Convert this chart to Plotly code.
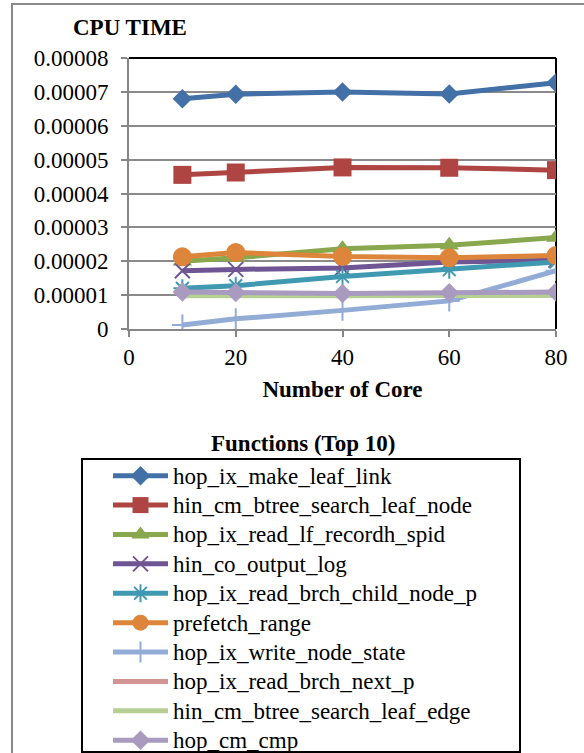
import plotly.graph_objects as go

# Number of cores on the x axis
cores = [10, 20, 40, 60, 80]

# CPU time per function (seconds)
hop_ix_make_leaf_link = [0.0000680, 0.0000693, 0.0000700, 0.0000694, 0.0000727]
hin_cm_btree_search_leaf_node = [0.0000455, 0.0000462, 0.0000477, 0.0000476, 0.0000469]
hop_ix_read_lf_recordh_spid = [0.0000200, 0.0000210, 0.0000237, 0.0000247, 0.0000270]
hin_co_output_log = [0.0000172, 0.0000176, 0.0000180, 0.0000198, 0.0000203]
hop_ix_read_brch_child_node_p = [0.0000120, 0.0000128, 0.0000155, 0.0000175, 0.0000198]
prefetch_range = [0.0000213, 0.0000226, 0.0000214, 0.0000210, 0.0000217]
hop_ix_write_node_state = [0.0000012, 0.0000030, 0.0000055, 0.0000083, 0.0000172]
hop_ix_read_brch_next_p = [0.0000100, 0.0000101, 0.0000100, 0.0000101, 0.0000101]
hin_cm_btree_search_leaf_edge = [0.0000098, 0.0000099, 0.0000098, 0.0000099, 0.0000099]
hop_cm_cmp = [0.0000109, 0.0000108, 0.0000105, 0.0000107, 0.0000109]

y_tickvals = [0, 0.00001, 0.00002, 0.00003, 0.00004, 0.00005, 0.00006, 0.00007, 0.00008]
y_ticktext = ["0", "0.00001", "0.00002", "0.00003", "0.00004",
              "0.00005", "0.00006", "0.00007", "0.00008"]
x_tickvals = [0, 20, 40, 60, 80]

series = [
    ("hop_ix_make_leaf_link", hop_ix_make_leaf_link, "#4470A8", "diamond", 15, 0),
    ("hin_cm_btree_search_leaf_node", hin_cm_btree_search_leaf_node, "#AE4542", "square", 18, 0),
    ("hop_ix_read_lf_recordh_spid", hop_ix_read_lf_recordh_spid, "#89A74D", "triangle-up", 17, 0),
    ("hin_co_output_log", hin_co_output_log, "#6F5593", "x-thin-open", 15, 2),
    ("hop_ix_read_brch_child_node_p", hop_ix_read_brch_child_node_p, "#3F99B1", "asterisk-open", 15, 2),
    ("prefetch_range", prefetch_range, "#DD853B", "circle", 19, 0),
    ("hop_ix_write_node_state", hop_ix_write_node_state, "#92ACD6", "cross-thin-open", 15, 2),
    ("hop_ix_read_brch_next_p", hop_ix_read_brch_next_p, "#D39594", None, 0, 0),
    ("hin_cm_btree_search_leaf_edge", hin_cm_btree_search_leaf_edge, "#B6CF93", None, 0, 0),
    ("hop_cm_cmp", hop_cm_cmp, "#A99AC0", "diamond", 15, 0),
]

SERIF = "Liberation Serif"
TXT = 23          # text size used throughout
LEG_ROW = 20.3    # legend font size that sets the legend row pitch

fig = go.Figure()
for name, vals, color, symbol, size, lw in series:
    label = f'<span style="font-size:{TXT}px">{name}</span>'
    if symbol is None:
        fig.add_trace(go.Scatter(
            x=cores, y=vals, name=label, mode="lines",
            line=dict(color=color, width=5), legendgroup=name,
        ))
    else:
        fig.add_trace(go.Scatter(
            x=cores, y=vals, name=label, mode="lines+markers",
            line=dict(color=color, width=5), legendgroup=name,
            marker=dict(symbol=symbol, size=size, color=color,
                        line=dict(color=color, width=lw)),
        ))

W, H = 584, 753
L, R, T, B = 129, 28, 58, 424
pw, ph = W - L - R, H - T - B


def px_x(p):
    return (p - L) / pw


def px_y(p):
    return (H - B - p) / ph


fig.update_layout(
    width=W, height=H,
    margin=dict(l=L, r=R, t=T, b=B, autoexpand=False),
    paper_bgcolor="white", plot_bgcolor="white",
    font=dict(family=SERIF, color="black"),
    showlegend=True,
    legend=dict(
        x=px_x(108), y=px_y(456), xanchor="left", yanchor="top",
        font=dict(family=SERIF, size=LEG_ROW, color="black"),
        borderwidth=0, bgcolor="rgba(0,0,0,0)",
        itemwidth=55, tracegroupgap=0,
    ),
    xaxis=dict(
        range=[0, 80], tickvals=x_tickvals, showgrid=False, zeroline=False,
        showline=True, linecolor="#868686", linewidth=2,
        ticks="outside", ticklen=6, tickcolor="#868686", tickwidth=2,
        tickfont=dict(family=SERIF, size=TXT, color="black"),
        title=dict(text="<b>Number of Core</b>", standoff=12,
                   font=dict(family=SERIF, size=TXT, color="black")),
    ),
    yaxis=dict(
        range=[0, 0.00008], tickvals=y_tickvals, ticktext=y_ticktext,
        showgrid=True, gridcolor="#8a8a8a", gridwidth=2, zeroline=False,
        showline=True, linecolor="#868686", linewidth=2,
        ticks="outside", ticklen=6, tickcolor="#868686", tickwidth=2,
        ticklabelstandoff=8,
        tickfont=dict(family=SERIF, size=TXT, color="black"),
    ),
    shapes=[
        # outer chart frame
        dict(type="rect", xref="paper", yref="paper",
             x0=px_x(12), x1=px_x(600), y0=px_y(4), y1=px_y(770),
             line=dict(color="#8a8a8a", width=2), layer="below"),
        # top and right edges of the plot area
        dict(type="line", xref="paper", yref="paper", x0=0, x1=1, y0=1, y1=1,
             line=dict(color="black", width=2)),
        dict(type="line", xref="paper", yref="paper", x0=1, x1=1, y0=0, y1=1,
             line=dict(color="black", width=2), layer="below"),
        # legend box
        dict(type="rect", xref="paper", yref="paper",
             x0=px_x(82), x1=px_x(520), y0=px_y(459), y1=px_y(752),
             line=dict(color="black", width=2)),
    ],
    annotations=[
        dict(text="<b>CPU TIME</b>", xref="paper", yref="paper",
             x=px_x(71), y=px_y(27), xanchor="left", yanchor="middle",
             showarrow=False, font=dict(family=SERIF, size=TXT, color="black")),
        dict(text="<b>Functions (Top 10)</b>", xref="paper", yref="paper",
             x=px_x(303), y=px_y(443), xanchor="center", yanchor="middle",
             showarrow=False, font=dict(family=SERIF, size=TXT, color="black")),
    ],
)

fig.write_html("out.html")
